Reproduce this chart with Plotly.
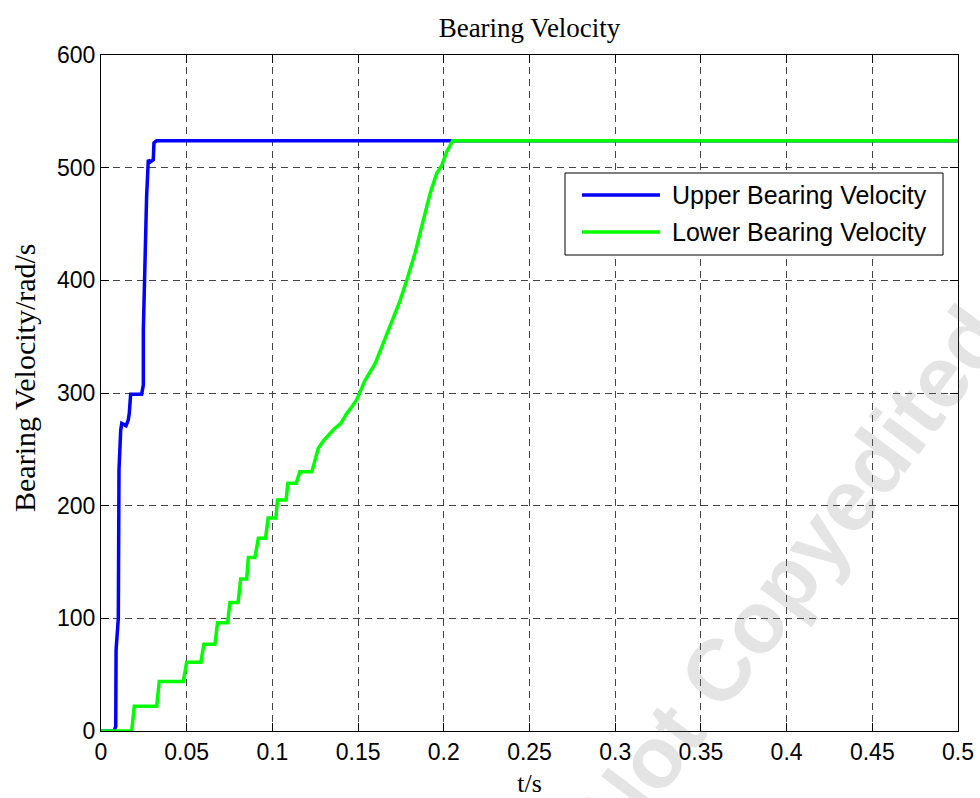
import plotly.graph_objects as go

# ---- data -------------------------------------------------------------
series_names = ["Upper Bearing Velocity", "Lower Bearing Velocity"]

upper_t = [0.0, 0.0076, 0.0086, 0.0088, 0.0101, 0.0101, 0.0105, 0.0115, 0.0121,
           0.0146, 0.0159, 0.0165, 0.0173, 0.0237, 0.0247, 0.0247, 0.0253, 0.0261,
           0.0266, 0.0276, 0.0286, 0.0305, 0.0309, 0.0325, 0.5]
upper_v = [0, 0, 4, 72, 100, 187, 232, 267, 273,
           271, 276, 282, 299, 299, 307, 356, 400, 471,
           474, 507, 505, 507, 522, 524, 524]

lower_t = [0.0, 0.0179, 0.0194, 0.0325, 0.0340, 0.0480, 0.0500, 0.0583, 0.0600,
           0.0665, 0.0680, 0.0739, 0.0752, 0.0800, 0.0815, 0.0850, 0.0860, 0.0898,
           0.0918, 0.0960, 0.0975, 0.1020, 0.1030, 0.1080, 0.1090, 0.1140, 0.1160,
           0.1230, 0.1250, 0.1268, 0.1300, 0.1330, 0.1360, 0.1400, 0.1430, 0.1460,
           0.1492, 0.1540, 0.1599, 0.1657, 0.1686, 0.1745, 0.1784, 0.1832, 0.1880,
           0.1920, 0.1959, 0.1988, 0.2017, 0.2052, 0.5]
lower_v = [0, 0, 22, 22, 44, 44, 61, 61, 77,
           77, 96, 96, 114, 114, 135, 135, 154, 154,
           171, 171, 189, 189, 205, 205, 220, 220, 230,
           230, 241, 251, 258, 263, 268, 273, 281, 287,
           294, 311, 326, 348, 359, 382, 400, 424, 453,
           477, 495, 502, 514, 524, 524]

x_tick_vals = [0, 0.05, 0.1, 0.15, 0.2, 0.25, 0.3, 0.35, 0.4, 0.45, 0.5]
x_tick_text = ["0", "0.05", "0.1", "0.15", "0.2", "0.25", "0.3", "0.35", "0.4", "0.45", "0.5"]
y_tick_vals = [0, 100, 200, 300, 400, 500, 600]
y_tick_text = ["0", "100", "200", "300", "400", "500", "600"]

colors = ["#0000ff", "#00ff00"]

# ---- figure geometry (pixels) -------------------------------------------
W, H = 980, 798
L, R, T, B = 101, 958, 55, 731   # plot-area edges


def px(x):
    return (x - L) / (R - L)


def py(y):
    return (B - y) / (B - T)


SANS = "Liberation Sans, Arial, sans-serif"
SERIF = "Liberation Serif, Times New Roman, serif"

fig = go.Figure()
fig.add_trace(go.Scatter(x=upper_t, y=upper_v, mode="lines", name=series_names[0],
                         line=dict(color=colors[0], width=3.5)))
fig.add_trace(go.Scatter(x=lower_t, y=lower_v, mode="lines", name=series_names[1],
                         line=dict(color=colors[1], width=3.5)))

axis_common = dict(
    automargin=False,
    showline=True, linecolor="black", linewidth=1, mirror="ticks",
    ticks="inside", ticklen=8, tickcolor="black", tickwidth=1,
    showgrid=True, gridcolor="#444444", gridwidth=1, griddash="7px,5px",
    zeroline=False, tickfont=dict(family=SANS, size=23, color="black"),
)

fig.update_xaxes(range=[0, 0.5], tickvals=x_tick_vals, ticktext=x_tick_text,
                 title=dict(text="t/s", font=dict(family=SERIF, size=26, color="black"),
                            standoff=14),
                 **axis_common)
fig.update_yaxes(range=[0, 600], tickvals=y_tick_vals, ticktext=y_tick_text,
                 **axis_common)

# legend box drawn as shapes + text
shapes = [dict(type="rect", xref="paper", yref="paper",
               x0=px(565), x1=px(943), y0=py(255), y1=py(173),
               line=dict(color="black", width=1), fillcolor="white", layer="above")]
annotations = []
for i, (name, c, yrow) in enumerate(zip(series_names, colors, [195, 232])):
    shapes.append(dict(type="line", xref="paper", yref="paper",
                       x0=px(582), x1=px(660), y0=py(yrow), y1=py(yrow),
                       line=dict(color=c, width=3.5), layer="above"))
    annotations.append(dict(xref="paper", yref="paper", x=px(670), y=py(yrow),
                            xanchor="left", yanchor="middle", showarrow=False,
                            text=name, font=dict(family=SANS, size=25, color="black")))

# y-axis label
annotations.append(dict(xref="paper", yref="paper", x=px(24), y=py(378),
                        xanchor="center", yanchor="middle", showarrow=False,
                        text="Bearing Velocity/rad/s", textangle=-90,
                        font=dict(family=SERIF, size=30, color="black")))

# faint diagonal watermark
annotations.append(dict(xref="paper", yref="paper", x=px(790), y=py(574),
                        xanchor="center", yanchor="middle", showarrow=False,
                        text="Not Copyedited", textangle=-53,
                        font=dict(family=SANS, size=87, color="rgba(120,120,120,0.2)",
                                  weight="bold")))

fig.update_layout(
    width=W, height=H,
    margin=dict(l=L, r=W - R, t=T, b=H - B),
    paper_bgcolor="white", plot_bgcolor="white",
    showlegend=False,
    title=dict(text="Bearing Velocity", x=0.5, xref="paper", y=1 - 28 / H,
               yanchor="middle", font=dict(family=SERIF, size=27, color="black")),
    shapes=shapes, annotations=annotations,
)

fig.write_html("out.html")
